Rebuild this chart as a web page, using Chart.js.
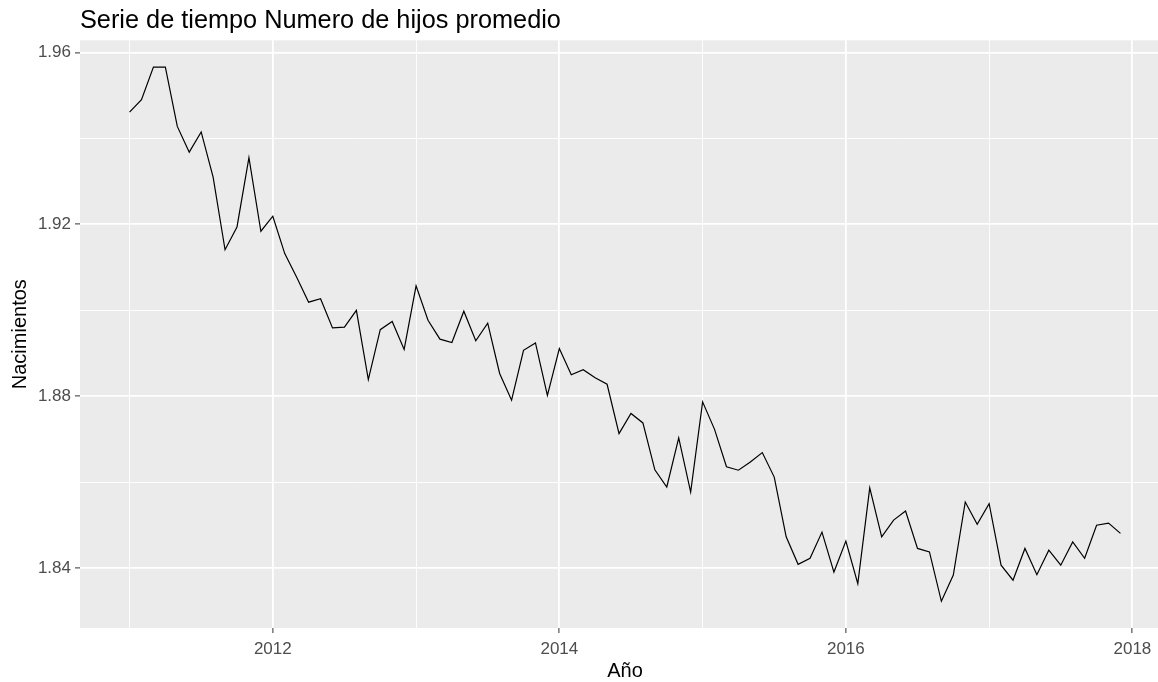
<!DOCTYPE html>
<html>
<head>
<meta charset="utf-8">
<title>Serie de tiempo Numero de hijos promedio</title>
<script src="https://cdn.jsdelivr.net/npm/chart.js@4.4.1/dist/chart.umd.min.js"></script>
<style>
  html, body { margin: 0; padding: 0; background: #fff; overflow: hidden; }
  #wrap { width: 1170px; height: 682px; }
</style>
</head>
<body>
<div id="wrap"><canvas id="myChart"></canvas></div>
<script>
// serie mensual, empieza en enero 2011
const startYear = 2011;
const hijos = [
    1.9461, 1.9490, 1.9566, 1.9566, 1.9428, 1.9368, 1.9415, 1.9310, 1.9141, 1.9194, 1.9355, 1.9184,
    1.9219, 1.9132, 1.9077, 1.9019, 1.9027, 1.8959, 1.8961, 1.9000, 1.8839, 1.8955, 1.8974, 1.8909,
    1.9057, 1.8977, 1.8933, 1.8925, 1.8998, 1.8929, 1.8970, 1.8853, 1.8791, 1.8907, 1.8924, 1.8802,
    1.8911, 1.8850, 1.8862, 1.8843, 1.8828, 1.8713, 1.8760, 1.8738, 1.8629, 1.8589, 1.8703, 1.8577,
    1.8787, 1.8723, 1.8636, 1.8628, 1.8647, 1.8669, 1.8612, 1.8473, 1.8409, 1.8423, 1.8484, 1.8391,
    1.8463, 1.8364, 1.8587, 1.8473, 1.8512, 1.8533, 1.8446, 1.8438, 1.8323, 1.8384, 1.8554, 1.8502,
    1.8550, 1.8407, 1.8372, 1.8446, 1.8385, 1.8442, 1.8407, 1.8461, 1.8423, 1.8500, 1.8505, 1.8481
];
const xTicks = [2011, 2012, 2013, 2014, 2015, 2016, 2017, 2018];
const xLabeled = [2012, 2014, 2016, 2018];
const yTicks = [1.84, 1.86, 1.88, 1.90, 1.92, 1.94, 1.96];
const yLabeled = [1.84, 1.88, 1.92, 1.96];

const points = hijos.map(function (v, i) {
    return { x: startYear + i / 12, y: v };
});

// expansion de 5% como ggplot
const xSpan = (hijos.length - 1) / 12;
const xMin = startYear - 0.05 * xSpan;
const xMax = startYear + xSpan + 0.05 * xSpan;
const yLo = Math.min(...hijos);
const yHi = Math.max(...hijos);
const yMin = yLo - 0.05 * (yHi - yLo);
const yMax = yHi + 0.05 * (yHi - yLo);

function isMajorX(v) { return xLabeled.includes(v); }
function isMajorY(v) { return yLabeled.some(function (t) { return Math.abs(t - v) < 1e-6; }); }

const panelBg = {
    id: "panelBg",
    beforeDraw(chart) {
        const a = chart.chartArea;
        const c = chart.ctx;
        c.save();
        c.fillStyle = "#EBEBEB";
        c.fillRect(a.left, a.top, a.right - a.left, a.bottom - a.top);
        c.restore();
    }
};

Chart.defaults.font.family = "'Liberation Sans', Arial, sans-serif";

new Chart(document.getElementById("myChart"), {
    type: "line",
    data: {
        datasets: [
            {
                label: "Nacimientos",
                data: points,
                borderColor: "#000000",
                borderWidth: 1.2,
                pointRadius: 0,
                tension: 0,
                fill: false,
            },
        ],
    },
    options: {
        responsive: true,
        maintainAspectRatio: false,
        devicePixelRatio: 1,
        animation: false,
        layout: { padding: 0 },
        plugins: {
            legend: { display: false },
            tooltip: { enabled: false },
            title: {
                display: true,
                text: "Serie de tiempo Numero de hijos promedio",
                align: "start",
                fullSize: false,
                color: "#000000",
                font: { size: 25.3, weight: "normal" },
                padding: { top: 6, bottom: 4 },
            },
        },
        scales: {
            x: {
                type: "linear",
                min: xMin,
                max: xMax,
                afterBuildTicks: function (scale) {
                    scale.ticks = xTicks.map(function (v) { return { value: v }; });
                },
                afterFit: function (scale) { scale.height = 54; },
                ticks: {
                    autoSkip: false,
                    maxRotation: 0,
                    padding: 6,
                    color: "#4D4D4D",
                    font: { size: 17 },
                    callback: function (value) { return isMajorX(value) ? String(value) : ""; },
                },
                grid: {
                    color: "#FFFFFF",
                    lineWidth: function (ctx) { return isMajorX(ctx.tick.value) ? 1.8 : 0.9; },
                    tickLength: 5,
                    tickWidth: 1,
                    tickColor: function (ctx) { return isMajorX(ctx.tick.value) ? "#333333" : "rgba(0,0,0,0)"; },
                },
                border: { display: false },
                title: {
                    display: true,
                    text: "Año",
                    color: "#000000",
                    font: { size: 20 },
                    padding: { top: 0, bottom: -1 },
                },
            },
            y: {
                min: yMin,
                max: yMax,
                afterBuildTicks: function (scale) {
                    scale.ticks = yTicks.map(function (v) { return { value: v }; });
                },
                afterFit: function (scale) { scale.width = 80; },
                ticks: {
                    autoSkip: false,
                    padding: 4,
                    color: "#4D4D4D",
                    font: { size: 17 },
                    callback: function (value) { return isMajorY(value) ? value.toFixed(2) : ""; },
                },
                grid: {
                    color: "#FFFFFF",
                    lineWidth: function (ctx) { return isMajorY(ctx.tick.value) ? 1.8 : 0.9; },
                    tickLength: 5,
                    tickWidth: 1,
                    tickColor: function (ctx) { return isMajorY(ctx.tick.value) ? "#333333" : "rgba(0,0,0,0)"; },
                },
                border: { display: false },
                title: {
                    display: true,
                    text: "Nacimientos",
                    color: "#000000",
                    font: { size: 20 },
                    padding: { top: 8, bottom: 0 },
                },
            },
        },
    },
    plugins: [panelBg],
});
</script>
</body>
</html>
